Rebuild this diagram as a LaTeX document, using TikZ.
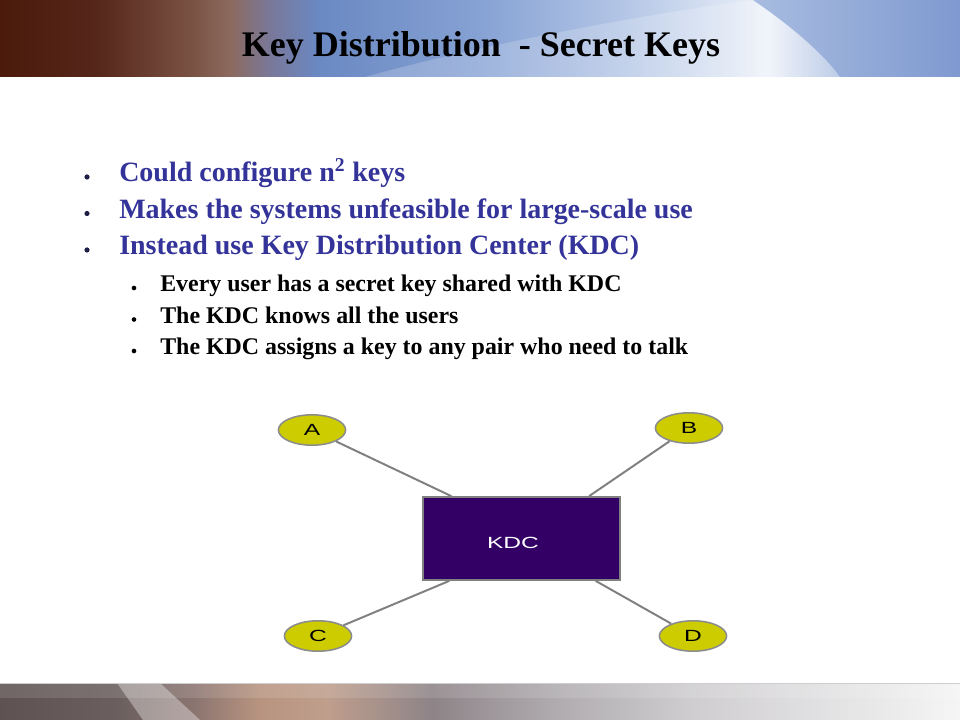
\documentclass[tikz,border=0pt]{standalone}
\usepackage{fontspec}
\setmainfont{Liberation Serif}
\setsansfont{Liberation Sans}
\usetikzlibrary{shapes}
\usetikzlibrary{calc}

\definecolor{bulletblue}{RGB}{51,51,153}
\definecolor{bulletdot}{RGB}{30,30,70}
\definecolor{kdcpurple}{RGB}{51,0,102}
\definecolor{useryellow}{RGB}{204,204,0}
\definecolor{edgegrey}{RGB}{128,128,128}
\definecolor{rimgrey}{RGB}{140,140,140}
% header band colours
\definecolor{bnA}{HTML}{4B1A0B}
\definecolor{bnB}{HTML}{55261A}
\definecolor{bnC}{HTML}{7A5244}
\definecolor{bnD}{HTML}{8C6A5E}
\definecolor{bnE}{HTML}{7A7898}
\definecolor{bnF}{HTML}{6A88C2}
\definecolor{bnG}{HTML}{86A2D4}
\definecolor{bnH}{HTML}{B4C6E6}
\definecolor{bnI}{HTML}{DDE6F4}
\definecolor{bnJ}{HTML}{EEF2FA}
\definecolor{bnK}{HTML}{A8BCE0}
\definecolor{bnL}{HTML}{7F9AD0}
% footer band colours
\definecolor{ftA}{HTML}{5E5252}
\definecolor{ftB}{HTML}{6A5E5E}
\definecolor{ftC}{HTML}{8A7470}
\definecolor{ftD}{HTML}{B89480}
\definecolor{ftE}{HTML}{BF9E8C}
\definecolor{ftF}{HTML}{8E8488}
\definecolor{ftG}{HTML}{B0ACB0}
\definecolor{ftH}{HTML}{CFCDD0}
\definecolor{ftI}{HTML}{F5F5F5}

% the path box takes the middle 25bp--75bp of the shading
\pgfdeclarehorizontalshading{banner}{100bp}{color(0bp)=(bnA); color(25bp)=(bnA); color(30bp)=(bnB); color(35bp)=(bnC); color(37bp)=(bnD); color(39bp)=(bnE); color(41.5bp)=(bnF); color(50bp)=(bnG); color(57.5bp)=(bnH); color(63bp)=(bnI); color(65bp)=(bnJ); color(69bp)=(bnK); color(75bp)=(bnL); color(100bp)=(bnL)}
\pgfdeclarehorizontalshading{footbar}{100bp}{color(0bp)=(ftA); color(25bp)=(ftA); color(31bp)=(ftB); color(35bp)=(ftC); color(38.5bp)=(ftD); color(42bp)=(ftE); color(47.5bp)=(ftF); color(54bp)=(ftG); color(61bp)=(ftH); color(75bp)=(ftI); color(100bp)=(ftI)}

\providecommand\widetext[1]{\scalebox{1.52}[1]{#1}}

\begin{document}
\begin{tikzpicture}[x=0.025cm, y=-0.025cm,
    slidetitle/.style = {anchor=base, inner sep=0pt, font=\bfseries\fontsize{25.6}{30}\selectfont},
    lvlone/.style = {anchor=base west, inner sep=0pt, text=bulletblue, font=\bfseries\fontsize{19.9}{24}\selectfont},
    lvltwo/.style = {anchor=base west, inner sep=0pt, font=\bfseries\fontsize{17}{20}\selectfont},
    user/.style = {ellipse, draw=rimgrey, line width=1.1pt, fill=useryellow, minimum width=1.68cm, minimum height=0.76cm, inner sep=0pt, font=\sffamily\fontsize{11.5}{13}\selectfont},
    kdcbox/.style = {rectangle, draw=edgegrey, line width=1.2pt, fill=kdcpurple, minimum width=4.925cm, minimum height=2.075cm},
    link/.style = {draw=edgegrey, line width=1.4pt},
]

    \useasboundingbox (0,0) rectangle (960,720);
    \fill[white] (0,0) rectangle (960,720);

    % header band
    \shade[shading=banner] (0,0) rectangle (960,77);
    \fill[white, opacity=0.2] (365,77) .. controls (480,45) and (640,15) .. (753,0) .. controls (790,25) and (825,55) .. (840,77) -- cycle;
    \shade[left color=bnK, middle color=bnH, right color=bnL] (753,0) .. controls (790,25) and (825,55) .. (840,77) -- (960,77) -- (960,0) -- cycle;

    % footer band
    \shade[shading=footbar] (0,683) rectangle (960,720);
    \fill[white, opacity=0.12] (0,683) rectangle (960,698);
    \fill[white, opacity=0.35] (117,683) -- (160,683) -- (200,720) -- (143,720) -- cycle;
    \draw[ftH, line width=0.6pt] (0,683.5) -- (960,683.5);

    \node (T) [slidetitle] at (481,57) {Key Distribution~ - Secret Keys};

    % bullets
    \foreach \txt [count=\i] in {{Could configure n\textsuperscript{2} keys}, {Makes the systems unfeasible for large-scale use}, {Instead use Key Distribution Center (KDC)}} {
        \fill[bulletdot] (87,{182+(\i-1)*36.5-5}) circle (1.85pt);
        \node (L\i) [lvlone] at (119,{182+(\i-1)*36.5}) {\txt};
    }
    \foreach \txt [count=\i] in {{Every user has a secret key shared with KDC}, {The KDC knows all the users}, {The KDC assigns a key to any pair who need to talk}} {
        \fill[black] (134,{292+(\i-1)*31.5-4}) circle (1.65pt);
        \node (S\i) [lvltwo] at (160,{292+(\i-1)*31.5}) {\txt};
    }

    % KDC and its users
    \node (kdc) [kdcbox] at (521.5,538.5) {};
    \node (kdctext) [inner sep=0pt, text=white, font=\sffamily\fontsize{11.5}{13}\selectfont] at ($(kdc.center)+(-8.5,4)$) {\widetext{KDC}};

    \node (A) [user] at (312,430) {\widetext{A}};
    \node (B) [user] at (689,428) {\widetext{B}};
    \node (C) [user] at (318,636) {\widetext{C}};
    \node (D) [user] at (693,636) {\widetext{D}};

    \coordinate (kA) at ($(kdc.north west)!0.147!(kdc.north east)$);
    \coordinate (kB) at ($(kdc.north west)!0.84!(kdc.north east)$);
    \coordinate (kC) at ($(kdc.south west)!0.137!(kdc.south east)$);
    \coordinate (kD) at ($(kdc.south west)!0.873!(kdc.south east)$);

    \draw[link] (A) -- (kA);
    \draw[link] (B) -- (kB);
    \draw[link] (C) -- (kC);
    \draw[link] (D) -- (kD);

\end{tikzpicture}
\end{document}
